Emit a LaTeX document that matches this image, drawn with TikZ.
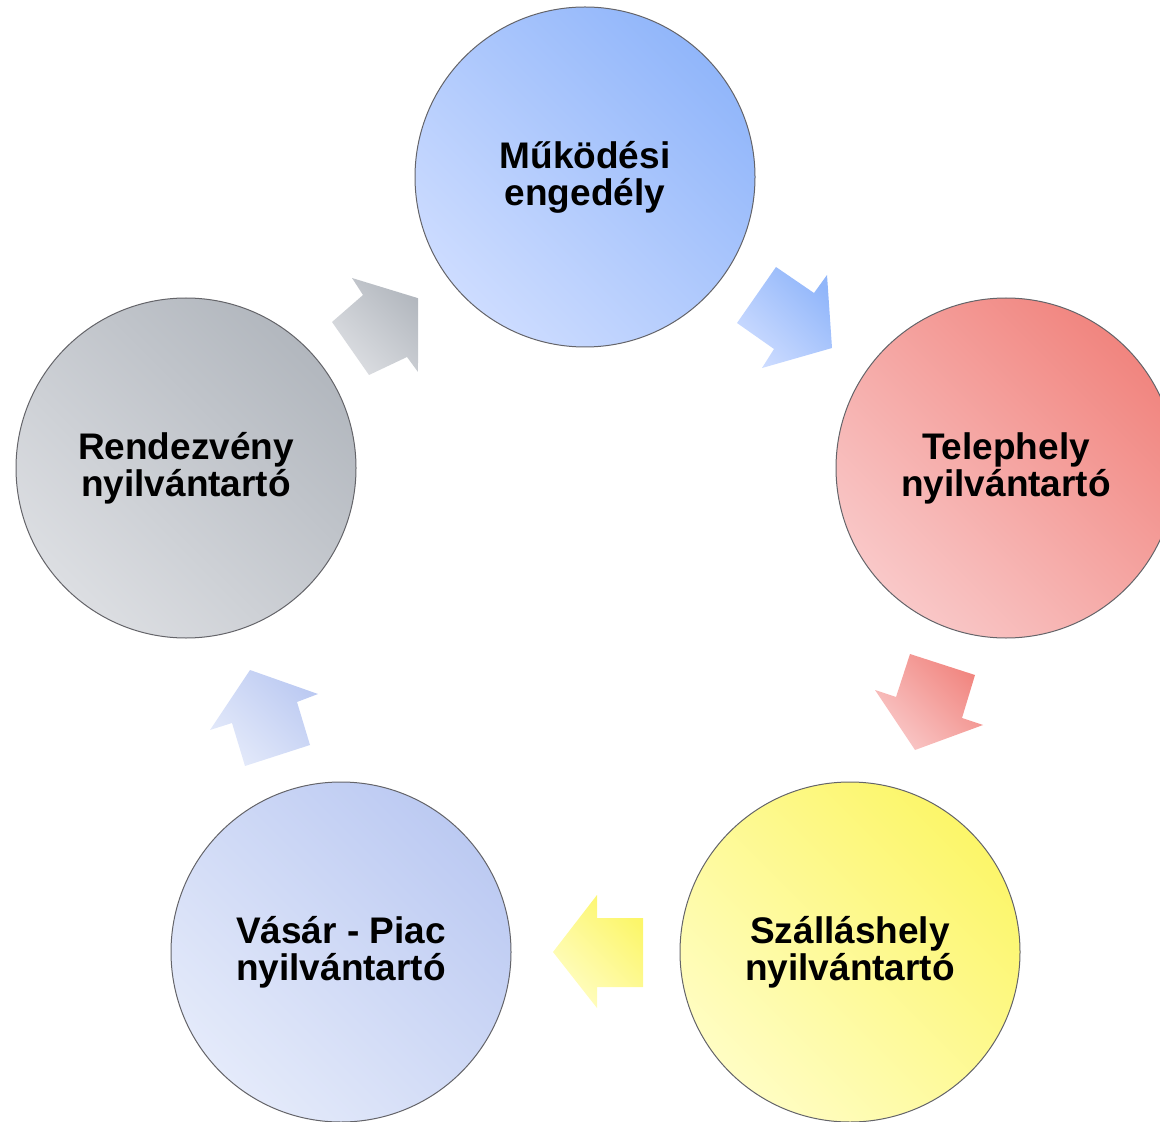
\documentclass[tikz,border=0pt]{standalone}
\usepackage{fontspec}
\newfontfamily\labfont{Liberation Sans}
\definecolor{blueD}{RGB}{145,182,250}
\definecolor{blueL}{RGB}{205,220,255}
\definecolor{redD}{RGB}{241,133,127}
\definecolor{redL}{RGB}{249,200,200}
\definecolor{yelD}{RGB}{252,246,105}
\definecolor{yelL}{RGB}{255,253,195}
\definecolor{lavD}{RGB}{188,202,242}
\definecolor{lavL}{RGB}{228,234,250}
\definecolor{grayD}{RGB}{178,183,190}
\definecolor{grayL}{RGB}{220,222,226}
\definecolor{rim}{RGB}{100,100,105}
\tikzset{
  disc/.style n args={2}{circle, minimum size=170pt, inner sep=0pt,
    draw=rim, line width=0.5pt, left color=#1, right color=#2, shading angle=135,
    font=\labfont\bfseries\fontsize{18.5}{18.5}\selectfont, align=center, text=black},
  blockarrow/.style n args={2}{left color=#1, right color=#2, shading angle=135, draw=none}
}
\begin{document}
\begin{tikzpicture}[x=0.5pt,y=-0.5pt]
\useasboundingbox (0,0) rectangle (1160,1122);
% block arrows
\shade[blockarrow={blueL}{blueD}] (776,267) -- (814,293) -- (827,275) -- (832,348) -- (762,368) -- (774,349) -- (737,323) -- cycle;
\shade[blockarrow={redL}{redD}] (910,654) -- (975,675) -- (962,718) -- (983,725) -- (915,750) -- (875,690) -- (896,697) -- cycle;
\shade[blockarrow={yelL}{yelD}] (597,918) -- (643,918) -- (643,987) -- (597,987) -- (597,1008) -- (553,952) -- (597,895) -- cycle;
\shade[blockarrow={lavL}{lavD}] (250,670) -- (318,694) -- (297,702) -- (310,745) -- (245,766) -- (232,723) -- (210,730) -- cycle;
\begin{scope}
\clip (0,0) rectangle (418,1122);
\shade[blockarrow={grayL}{grayD}] (352,278) -- (424,300) -- (418,372) -- (407,357) -- (369,375) -- (332,322) -- (363,295) -- cycle;
\end{scope}
% circles
\node[disc={blueL}{blueD}] (mukodesi) at (585,177) {Működési\\engedély};
\node[disc={redL}{redD}] (telephely) at (1006,468) {Telephely\\nyilvántartó};
\node[disc={yelL}{yelD}] (szallas) at (850,952) {Szálláshely\\nyilvántartó};
\node[disc={lavL}{lavD}] (vasar) at (341,952) {Vásár - Piac\\nyilvántartó};
\node[disc={grayL}{grayD}] (rendezveny) at (186,468) {Rendezvény\\nyilvántartó};
\end{tikzpicture}
\end{document}
